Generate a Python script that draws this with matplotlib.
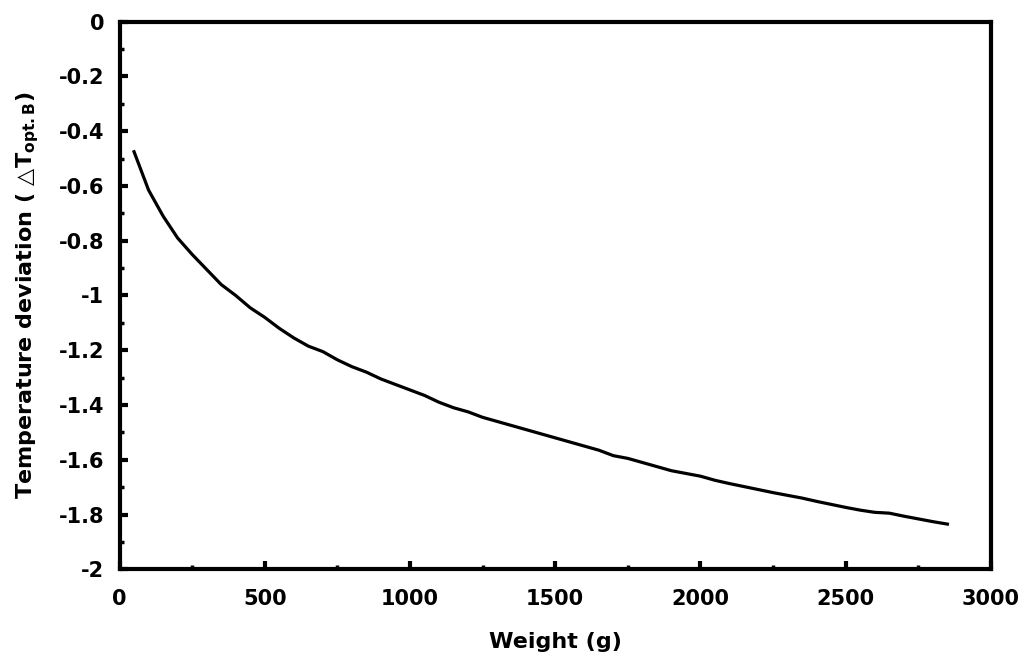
import numpy as np
import matplotlib.pyplot as plt
from matplotlib.ticker import MultipleLocator

weight = [50, 100, 150, 200, 250, 300, 350, 400, 450, 500,
          550, 600, 650, 700, 750, 800, 850, 900, 950, 1000,
          1050, 1100, 1150, 1200, 1250, 1300, 1350, 1400, 1450, 1500,
          1550, 1600, 1650, 1700, 1750, 1800, 1850, 1900, 1950, 2000,
          2050, 2100, 2150, 2200, 2250, 2300, 2350, 2400, 2450, 2500,
          2550, 2600, 2650, 2700, 2750, 2800, 2850]
deviation = [-0.475, -0.615, -0.71, -0.79, -0.85, -0.905, -0.96, -1.00, -1.045, -1.08,
             -1.12, -1.155, -1.185, -1.205, -1.235, -1.26, -1.28, -1.305, -1.325, -1.345,
             -1.365, -1.39, -1.41, -1.425, -1.445, -1.46, -1.475, -1.49, -1.505, -1.52,
             -1.535, -1.55, -1.565, -1.585, -1.595, -1.61, -1.625, -1.64, -1.65, -1.66,
             -1.675, -1.687, -1.698, -1.709, -1.72, -1.73, -1.74, -1.752, -1.763, -1.774,
             -1.784, -1.792, -1.795, -1.806, -1.816, -1.826, -1.835]

plt.rcParams['font.family'] = ['DejaVu Sans']
plt.rcParams['font.weight'] = 'bold'
plt.rcParams['mathtext.fontset'] = 'dejavusans'
plt.rcParams['mathtext.default'] = 'bf'

fig = plt.figure(figsize=(10.25, 6.57), dpi=100)
ax = fig.add_axes([0.1166, 0.1335, 0.8502, 0.8335])

ax.plot(weight, deviation, color='black', linewidth=2.3)

ax.set_xlim(0, 3000)
ax.set_ylim(-2, 0)
ax.xaxis.set_major_locator(MultipleLocator(500))
ax.xaxis.set_minor_locator(MultipleLocator(250))
ax.yaxis.set_major_locator(MultipleLocator(0.2))
ax.yaxis.set_minor_locator(MultipleLocator(0.1))
# plain hyphen, no trailing zeros: 0, -0.2, ..., -1, ..., -2
ax.yaxis.set_major_formatter(lambda v, pos: '0' if abs(v) < 1e-9 else '%g' % round(v, 1))

for s in ax.spines.values():
    s.set_linewidth(3)

ax.tick_params(which='major', direction='in', length=6, width=3,
               labelsize=15, pad=11)
ax.tick_params(which='minor', direction='in', length=3, width=2.5)
ax.tick_params(axis='x', which='major', pad=14)

ax.set_xlabel('Weight (g)', fontsize=16, fontweight='bold', labelpad=17)
ax.set_ylabel('Temperature deviation ( \u25b3T$_{opt.B}$)', fontsize=16,
              fontweight='bold', labelpad=13)

fig.savefig('out.png', dpi=100)
